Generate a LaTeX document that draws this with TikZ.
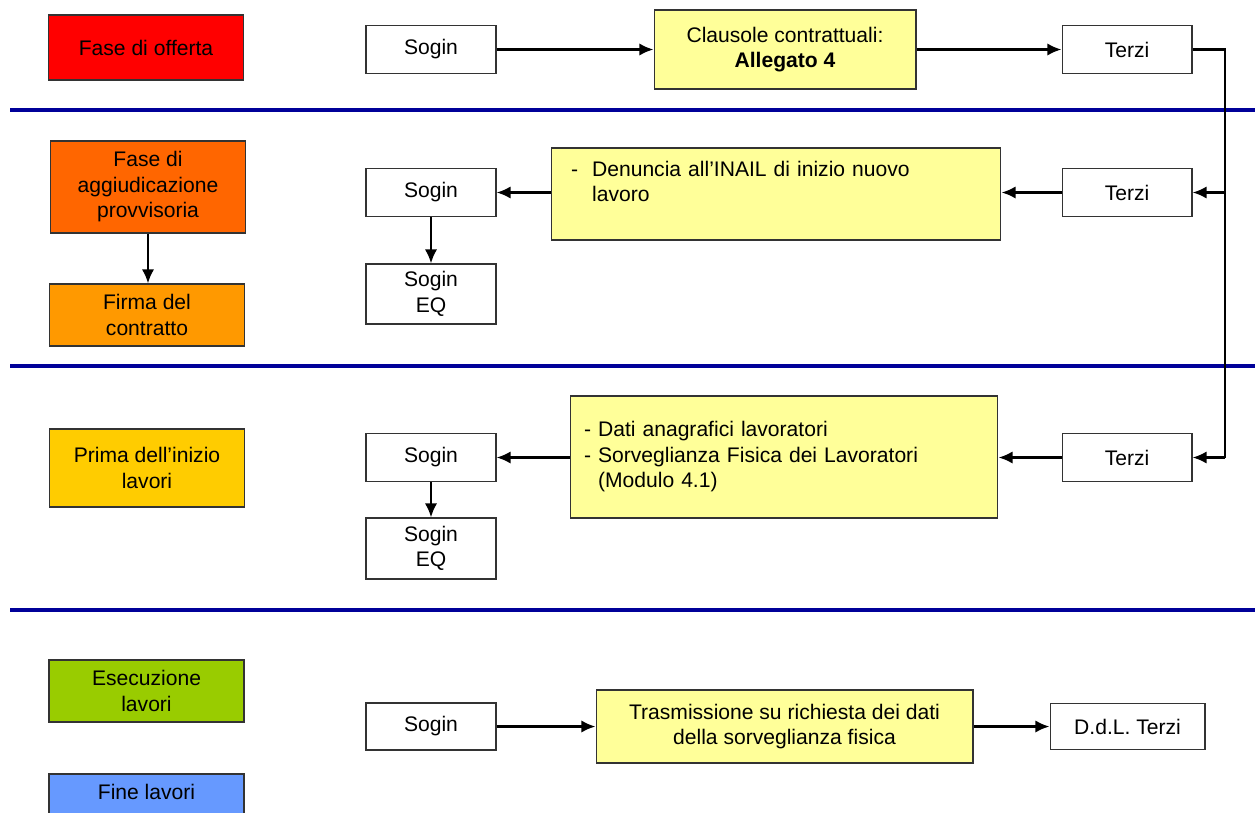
\documentclass[tikz,border=0pt]{standalone}
\usepackage{fontspec}
\setmainfont{Liberation Sans}
\usepackage{tikz}
\usetikzlibrary{arrows.meta}
\usepackage{xcolor}

\definecolor{phaseRed}{HTML}{FF0000}
\definecolor{phaseOrange}{HTML}{FF6600}
\definecolor{phaseAmber}{HTML}{FF9900}
\definecolor{phaseGold}{HTML}{FFCC00}
\definecolor{phaseGreen}{HTML}{99CC00}
\definecolor{phaseBlue}{HTML}{6699FF}
\definecolor{noteYellow}{HTML}{FFFF99}
\definecolor{divBlue}{HTML}{000099}

\begin{document}
\begin{tikzpicture}[x=0.02cm, y=-0.02cm,
  box/.style={draw=black!80, line width=0.6pt, align=center, inner sep=2pt, font=\fontsize{12}{14.5}\selectfont},
  phase/.style={box, minimum width=3.9cm},
  actor/.style={box, fill=white, minimum width=2.6cm, minimum height=0.96cm},
  note/.style={box, fill=noteYellow},
  flow/.style={->, >={Latex[length=8pt,width=7pt]}, line width=1.4pt},
  divider/.style={line width=1.9pt, draw=divBlue}]

\useasboundingbox (0,0) rectangle (1257,812);

% phase dividers
\draw [divider] (10,110) -- (1255,110);
\draw [divider] (10,366) -- (1255,366);
\draw [divider] (10,610) -- (1255,610);

% phases on the left
\node [phase, fill=phaseRed,    minimum height=1.30cm] (offerta) at (146,47.5) {Fase di offerta};
\node [phase, fill=phaseOrange, minimum height=1.84cm] (aggiud)  at (148,187)  {Fase di\\aggiudicazione\\provvisoria};
\node [phase, fill=phaseAmber,  minimum height=1.24cm] (firma)   at (147,315)  {Firma del\\contratto};
\node [phase, fill=phaseGold,   minimum height=1.56cm] (prima)   at (147,468)  {Prima dell’inizio\\lavori};
\node [phase, fill=phaseGreen,  minimum height=1.24cm] (esecuz)  at (146.5,691) {Esecuzione\\lavori};
\node [phase, fill=phaseBlue,   minimum height=1.24cm] (fine)    at (146.5,805) {Fine lavori\\\mbox{}};

\draw [flow] (aggiud.south) -- (aggiud.south |- firma.north);

% fase di offerta
\node [actor] (sogin1) at (431,49.5)  {Sogin};
\node [note, minimum width=5.24cm, minimum height=1.58cm] (clausole) at (785,49.5) {Clausole contrattuali:\\\textbf{Allegato 4}};
\node [actor] (terzi1) at (1127,49.5) {Terzi};

\draw [flow] (sogin1.east) -- (clausole.west);
\draw [flow] (clausole.east) -- (terzi1.west);

% aggiudicazione
\node [actor] (sogin2) at (431,192.5) {Sogin};
\node [actor, minimum height=1.2cm] (soginEQ2) at (431,294) {Sogin\\EQ};
\node [note, align=left, inner xsep=0.4cm, text width=8.2cm, minimum height=1.84cm] (denuncia) at (776,194)
  {-\ \ Denuncia all’INAIL di inizio nuovo\\\hphantom{-\ \ }lavoro\\\mbox{}};
\node [actor] (terzi2) at (1127,192.5) {Terzi};

% prima dell'inizio lavori
\node [actor] (sogin3) at (431,457.5) {Sogin};
\node [actor, minimum height=1.22cm] (soginEQ3) at (431,548.5) {Sogin\\EQ};
\node [note, align=left, inner xsep=0.28cm, text width=8.0cm, minimum height=2.44cm] (dati) at (784,457)
  {- Dati anagrafici lavoratori\\- Sorveglianza Fisica dei Lavoratori\\\hphantom{- }(Modulo 4.1)};
\node [actor] (terzi3) at (1127,457.5) {Terzi};

% raccordo verso destra
\coordinate (spine) at (1225,0);
\draw [line width=1.4pt] (terzi1.east) -- (terzi1.east -| spine) -- (terzi3.east -| spine);
\draw [flow] (terzi3.east -| spine) -- (terzi3.east);
\draw [flow] (terzi2.east -| spine) -- (terzi2.east);

\draw [flow] (terzi2.west) -- (terzi2.west -| denuncia.east);
\draw [flow] (denuncia.west |- sogin2.east) -- (sogin2.east);
\draw [flow] (sogin2.south) -- (soginEQ2.north);

\draw [flow] (terzi3.west) -- (terzi3.west -| dati.east);
\draw [flow] (dati.west |- sogin3.east) -- (sogin3.east);
\draw [flow] (sogin3.south) -- (soginEQ3.north);

% esecuzione lavori
\node [actor, minimum height=0.94cm] (sogin4) at (431,726.5) {Sogin};
\node [note, minimum width=7.54cm, minimum height=1.46cm] (trasm) at (784.5,726.5) {Trasmissione su richiesta dei dati\\della sorveglianza fisica};
\node [actor, minimum width=3.1cm, minimum height=0.92cm] (ddl) at (1127.5,726.5) {D.d.L. Terzi};

\draw [flow] (sogin4.east) -- (trasm.west);
\draw [flow] (trasm.east) -- (ddl.west);

\end{tikzpicture}
\end{document}
